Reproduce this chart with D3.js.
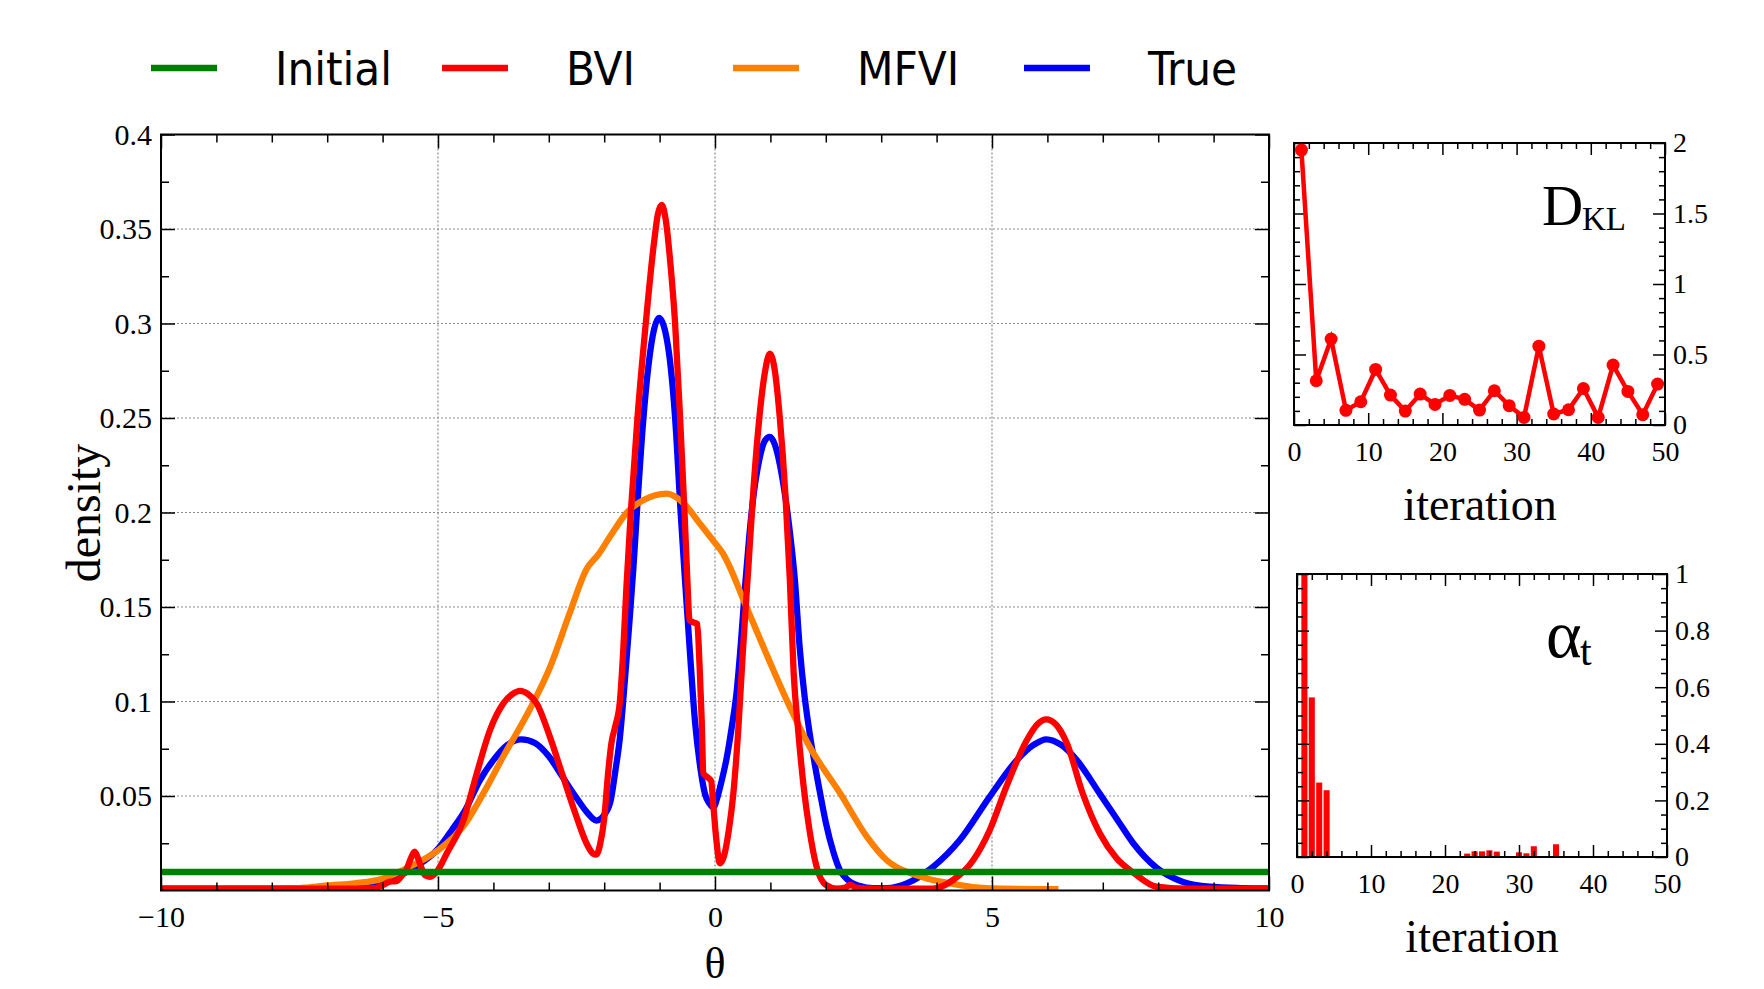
<!DOCTYPE html>
<html>
<head>
<meta charset="utf-8">
<script src="https://cdn.jsdelivr.net/npm/d3@7"></script>
<style>
  body { margin: 0; background: #fff; }
  svg { display: block; }
</style>
</head>
<body>
<svg></svg>
<script>
// ---- data ----
const legendLabels = ['Initial', 'BVI', 'MFVI', 'True'];
const legendColors = ['#008000', '#ff0000', '#ff8000', '#0000ff'];

const thetaInitial = [-10, 10];
const densityInitial = [0.0098, 0.0098];

const thetaTrue = [-10, -8, -7, -6.5, -6, -5.5, -5, -4.75, -4.5, -4.25, -4, -3.75, -3.5, -3.25, -3, -2.75, -2.5, -2.3, -2.14, -2.0, -1.88, -1.8, -1.72, -1.63, -1.55, -1.47, -1.41, -1.3, -1.2, -1.1, -1.01, -0.9, -0.8, -0.72, -0.62, -0.55, -0.45, -0.36, -0.27, -0.18, -0.1, -0.03, 0.05, 0.12, 0.21, 0.3, 0.39, 0.47, 0.54, 0.62, 0.7, 0.8, 0.9, 0.99, 1.08, 1.18, 1.28, 1.37, 1.44, 1.53, 1.62, 1.71, 1.8, 1.9, 2.0, 2.14, 2.25, 2.38, 2.6, 2.86, 3.1, 3.46, 3.94, 4.42, 4.96, 5.45, 5.75, 5.98, 6.25, 6.53, 6.95, 7.25, 7.55, 7.97, 8.45, 8.93, 9.5, 10];
const densityTrue = [0.001, 0.001, 0.0012, 0.002, 0.004, 0.011, 0.022, 0.032, 0.043, 0.058, 0.069, 0.077, 0.080, 0.078, 0.071, 0.060, 0.049, 0.041, 0.037, 0.040, 0.048, 0.063, 0.080, 0.110, 0.140, 0.172, 0.200, 0.247, 0.278, 0.297, 0.303, 0.296, 0.277, 0.250, 0.200, 0.168, 0.125, 0.089, 0.066, 0.051, 0.046, 0.044, 0.050, 0.058, 0.070, 0.086, 0.105, 0.132, 0.160, 0.188, 0.210, 0.228, 0.238, 0.240, 0.236, 0.224, 0.206, 0.185, 0.165, 0.128, 0.102, 0.083, 0.067, 0.051, 0.036, 0.020, 0.011, 0.006, 0.0025, 0.0012, 0.0013, 0.0038, 0.0126, 0.0267, 0.0497, 0.069, 0.077, 0.080, 0.077, 0.069, 0.051, 0.038, 0.025, 0.012, 0.0045, 0.002, 0.0013, 0.0011];

const thetaBVI = [-10, -8, -6.5, -6.14, -5.99, -5.87, -5.75, -5.65, -5.57, -5.49, -5.42, -5.36, -5.3, -5.23, -5.14, -5.02, -4.84, -4.54, -4.3, -4.06, -3.82, -3.65, -3.52, -3.38, -3.22, -2.98, -2.74, -2.5, -2.32, -2.2, -2.14, -2.07, -2.0, -1.93, -1.87, -1.8, -1.72, -1.66, -1.6, -1.52, -1.4, -1.25, -1.1, -1.03, -0.96, -0.89, -0.8, -0.72, -0.63, -0.55, -0.5, -0.46, -0.4, -0.32, -0.28, -0.24, -0.21, -0.14, -0.07, -0.03, 0.02, 0.09, 0.16, 0.25, 0.33, 0.42, 0.5, 0.6, 0.7, 0.8, 0.9, 0.99, 1.08, 1.17, 1.27, 1.35, 1.42, 1.5, 1.6, 1.7, 1.83, 2.0, 2.2, 2.35, 2.44, 2.55, 2.8, 3.94, 4.3, 4.66, 4.96, 5.26, 5.63, 5.82, 5.98, 6.15, 6.35, 6.63, 6.95, 7.25, 7.55, 7.97, 8.5, 10];
const densityBVI = [0.001, 0.001, 0.001, 0.0012, 0.003, 0.0047, 0.005, 0.008, 0.011, 0.017, 0.0205, 0.017, 0.012, 0.008, 0.0072, 0.010, 0.0197, 0.0373, 0.062, 0.085, 0.099, 0.104, 0.1056, 0.104, 0.099, 0.0813, 0.060, 0.039, 0.025, 0.0195, 0.019, 0.025, 0.038, 0.062, 0.078, 0.087, 0.099, 0.125, 0.160, 0.200, 0.250, 0.300, 0.343, 0.358, 0.3627, 0.355, 0.330, 0.300, 0.250, 0.200, 0.165, 0.143, 0.142, 0.141, 0.120, 0.090, 0.062, 0.060, 0.058, 0.045, 0.028, 0.0144, 0.018, 0.032, 0.051, 0.085, 0.125, 0.170, 0.215, 0.250, 0.274, 0.284, 0.275, 0.250, 0.210, 0.165, 0.115, 0.085, 0.055, 0.033, 0.013, 0.003, 0.001, 0.0015, 0.003, 0.0015, 0.001, 0.001, 0.0056, 0.016, 0.032, 0.055, 0.0796, 0.088, 0.0905, 0.088, 0.078, 0.052, 0.030, 0.017, 0.0095, 0.002, 0.001, 0.001];

const thetaMFVI = [-7.75, -7.4, -7.0, -6.5, -6.0, -5.57, -5.0, -4.54, -4.18, -3.82, -3.34, -2.98, -2.62, -2.32, -2.1, -1.9, -1.59, -1.29, -0.87, -0.57, -0.27, -0.03, 0.15, 0.27, 0.51, 0.93, 1.29, 1.71, 2.26, 2.74, 3.1, 3.64, 4.24, 4.96, 6.2];
const densityMFVI = [0.0007, 0.0015, 0.0027, 0.0038, 0.0062, 0.0117, 0.0213, 0.034, 0.0515, 0.071, 0.096, 0.118, 0.147, 0.170, 0.178, 0.187, 0.200, 0.2066, 0.210, 0.205, 0.194, 0.185, 0.178, 0.171, 0.154, 0.125, 0.101, 0.076, 0.0514, 0.0285, 0.016, 0.008, 0.0038, 0.0011, 0.0007];

const klIteration = [1, 3, 5, 7, 9, 11, 13, 15, 17, 19, 21, 23, 25, 27, 29, 31, 33, 35, 37, 39, 41, 43, 45, 47, 49];
const klValue = [1.95, 0.314, 0.61, 0.104, 0.165, 0.394, 0.212, 0.099, 0.219, 0.146, 0.21, 0.182, 0.106, 0.243, 0.137, 0.054, 0.559, 0.078, 0.108, 0.259, 0.054, 0.425, 0.238, 0.073, 0.29];

const alphaIteration = [1, 2, 3, 4, 21, 22, 23, 24, 25, 26, 27, 29, 30, 31, 32, 35];
const alphaValue = [1.0, 0.564, 0.263, 0.236, 0.001, 0.001, 0.012, 0.02, 0.02, 0.0235, 0.019, 0.0035, 0.0165, 0.013, 0.038, 0.045];

const thetaLabels = ['\u221210', '\u22125', '0', '5', '10'];
const thetaMajor = [-10, -5, 0, 5, 10];
const thetaGrid = [-5, 0, 5];
const densityMajor = [0.05, 0.1, 0.15, 0.2, 0.25, 0.3, 0.35, 0.4];
const densityLabels = ['0.05', '0.1', '0.15', '0.2', '0.25', '0.3', '0.35', '0.4'];
const densityGrid = [0.05, 0.1, 0.15, 0.2, 0.25, 0.3, 0.35];
const iterMajor = [0, 10, 20, 30, 40, 50];
const iterLabels = ['0', '10', '20', '30', '40', '50'];
const klMajor = [0, 0.5, 1, 1.5, 2];
const klLabels = ['0', '0.5', '1', '1.5', '2'];
const alphaMajor = [0, 0.2, 0.4, 0.6, 0.8, 1];
const alphaLabels = ['0', '0.2', '0.4', '0.6', '0.8', '1'];

// ---- layout ----
const width = 1764;
const height = 989;
const serif = '"Liberation Serif", "Times New Roman", serif';
const legendFont = '"Liberation Sans Narrow", "DejaVu Sans Condensed", "Liberation Sans", sans-serif';

const svg = d3.select('svg')
  .attr('width', width)
  .attr('height', height)
  .style('background', '#fff');

// framed panel, inward ticks on all four sides
const drawFrame = (g, x, y, opt) => {
  const [x0, x1] = x.range();
  const [y0, y1] = y.range();

  const styleAxis = sel => {
    sel.select('.domain').remove();
    sel.selectAll('line').attr('stroke', '#000').attr('stroke-width', 1.5);
    sel.selectAll('text')
      .attr('font-family', serif)
      .attr('font-size', opt.fontSize)
      .attr('fill', '#000');
  };

  const sides = [
    { make: () => d3.axisBottom(x), at: `translate(0,${y0})`, major: opt.xMajor, minor: opt.xMinor, labels: opt.xLabels, pad: opt.xPad },
    { make: () => d3.axisTop(x), at: `translate(0,${y1})`, major: opt.xMajor, minor: opt.xMinor, labels: null, pad: 0 },
    { make: () => d3.axisLeft(y), at: `translate(${x0},0)`, major: opt.yMajor, minor: opt.yMinor, labels: opt.yLeftLabels, pad: opt.yPad },
    { make: () => d3.axisRight(y), at: `translate(${x1},0)`, major: opt.yMajor, minor: opt.yMinor, labels: opt.yRightLabels, pad: opt.yPad }
  ];

  sides.forEach(s => {
    g.append('g')
      .attr('transform', s.at)
      .call(s.make().tickValues(s.minor).tickSize(-opt.minorLen).tickFormat(''))
      .call(styleAxis);

    g.append('g')
      .attr('transform', s.at)
      .call(s.make()
        .tickValues(s.major)
        .tickSize(-opt.majorLen)
        .tickPadding(s.pad)
        .tickFormat((d, i) => (s.labels ? s.labels[i] : '')))
      .call(styleAxis);
  });

  g.append('rect')
    .attr('x', x0)
    .attr('y', y1)
    .attr('width', x1 - x0)
    .attr('height', y0 - y1)
    .attr('fill', 'none')
    .attr('stroke', '#000')
    .attr('stroke-width', 2);
};

// ---- main density panel ----
const x = d3.scaleLinear().domain([-10, 10]).range([161, 1269]);
const y = d3.scaleLinear().domain([0, 0.4]).range([890.5, 134.5]);

const mainG = svg.append('g');

mainG.append('g')
  .selectAll('line')
  .data(densityGrid)
  .join('line')
  .attr('x1', x(-10))
  .attr('x2', x(10))
  .attr('y1', d => y(d))
  .attr('y2', d => y(d))
  .attr('stroke', '#8c8c8c')
  .attr('stroke-width', 1.2)
  .attr('stroke-dasharray', '2,2');

mainG.append('g')
  .selectAll('line')
  .data(thetaGrid)
  .join('line')
  .attr('x1', d => x(d))
  .attr('x2', d => x(d))
  .attr('y1', y(0))
  .attr('y2', y(0.4))
  .attr('stroke', '#8c8c8c')
  .attr('stroke-width', 1.2)
  .attr('stroke-dasharray', '2,2');

svg.append('clipPath')
  .attr('id', 'mainClip')
  .append('rect')
  .attr('x', x(-10))
  .attr('y', y(0.4))
  .attr('width', x(10) - x(-10))
  .attr('height', y(0) - y(0.4));

const line = d3.line()
  .x(d => x(d[0]))
  .y(d => y(d[1]))
  .curve(d3.curveMonotoneX);

const series = [
  { th: thetaTrue, v: densityTrue, color: legendColors[3] },
  { th: thetaMFVI, v: densityMFVI, color: legendColors[2] },
  { th: thetaBVI, v: densityBVI, color: legendColors[1] },
  { th: thetaInitial, v: densityInitial, color: legendColors[0] }
];

const curves = mainG.append('g').attr('clip-path', 'url(#mainClip)');
series.forEach(s => {
  curves.append('path')
    .datum(s.th.map((t, i) => [t, s.v[i]]))
    .attr('d', line)
    .attr('fill', 'none')
    .attr('stroke', s.color)
    .attr('stroke-width', 6.3)
    .attr('stroke-linejoin', 'round');
});

drawFrame(mainG, x, y, {
  xMajor: thetaMajor,
  xMinor: d3.range(-9, 10).filter(d => d % 5 !== 0),
  xLabels: thetaLabels,
  xPad: 15,
  yMajor: densityMajor,
  yMinor: d3.range(1, 16, 2).map(d => d * 0.025),
  yLeftLabels: densityLabels,
  yRightLabels: null,
  yPad: 9,
  majorLen: 14,
  minorLen: 8,
  fontSize: 30
});

mainG.append('text')
  .attr('x', x(0))
  .attr('y', 978)
  .attr('text-anchor', 'middle')
  .attr('font-family', serif)
  .attr('font-size', 44)
  .text('\u03b8');

mainG.append('text')
  .attr('transform', 'translate(100,513) rotate(-90)')
  .attr('text-anchor', 'middle')
  .attr('font-family', serif)
  .attr('font-size', 48)
  .text('density');

// ---- legend ----
const legend = svg.append('g');
legendLabels.forEach((name, i) => {
  const x0 = 151 + 291 * i;
  legend.append('line')
    .attr('x1', x0)
    .attr('x2', x0 + 66)
    .attr('y1', 68)
    .attr('y2', 68)
    .attr('stroke', legendColors[i])
    .attr('stroke-width', 6.5);
  legend.append('text')
    .attr('x', x0 + 124)
    .attr('y', 85)
    .attr('font-family', legendFont)
    .attr('font-size', 47)
    .text(name);
});

// ---- KL divergence panel ----
const xk = d3.scaleLinear().domain([0, 50]).range([1294, 1665]);
const yk = d3.scaleLinear().domain([0, 2]).range([425, 143]);
const klG = svg.append('g');

drawFrame(klG, xk, yk, {
  xMajor: iterMajor,
  xMinor: d3.range(2, 50, 2).filter(d => d % 10 !== 0),
  xLabels: iterLabels,
  xPad: 16,
  yMajor: klMajor,
  yMinor: d3.range(1, 20).filter(d => d % 5 !== 0).map(d => d / 10),
  yLeftLabels: null,
  yRightLabels: klLabels,
  yPad: 8,
  majorLen: 12,
  minorLen: 6,
  fontSize: 28
});

const klPts = klIteration.map((it, i) => [it, klValue[i]]);
klG.append('path')
  .datum(klPts)
  .attr('d', d3.line().x(d => xk(d[0])).y(d => yk(d[1])))
  .attr('fill', 'none')
  .attr('stroke', '#ff0000')
  .attr('stroke-width', 4.5);

klG.append('g')
  .selectAll('circle')
  .data(klPts)
  .join('circle')
  .attr('cx', d => xk(d[0]))
  .attr('cy', d => yk(d[1]))
  .attr('r', 6.5)
  .attr('fill', '#ff0000');

klG.append('text')
  .attr('x', 1542)
  .attr('y', 225)
  .attr('font-family', serif)
  .attr('font-size', 57)
  .text('D');
klG.append('text')
  .attr('x', 1582)
  .attr('y', 230)
  .attr('font-family', serif)
  .attr('font-size', 33)
  .text('KL');

klG.append('text')
  .attr('x', 1480)
  .attr('y', 520)
  .attr('text-anchor', 'middle')
  .attr('font-family', serif)
  .attr('font-size', 46)
  .text('iteration');

// ---- step size panel ----
const xa = d3.scaleLinear().domain([0, 50]).range([1297, 1667]);
const ya = d3.scaleLinear().domain([0, 1]).range([857, 574]);
const alphaG = svg.append('g');
const barW = (xa(1) - xa(0)) * 0.82;

alphaG.append('g')
  .selectAll('rect')
  .data(alphaIteration.map((it, i) => [it, alphaValue[i]]))
  .join('rect')
  .attr('x', d => xa(d[0]) - barW / 2)
  .attr('y', d => ya(d[1]))
  .attr('width', barW)
  .attr('height', d => ya(0) - ya(d[1]))
  .attr('fill', '#ff0000');

drawFrame(alphaG, xa, ya, {
  xMajor: iterMajor,
  xMinor: d3.range(2, 50, 2).filter(d => d % 10 !== 0),
  xLabels: iterLabels,
  xPad: 16,
  yMajor: alphaMajor,
  yMinor: d3.range(1, 20).filter(d => d % 4 !== 0).map(d => d * 0.05),
  yLeftLabels: null,
  yRightLabels: alphaLabels,
  yPad: 8,
  majorLen: 12,
  minorLen: 6,
  fontSize: 28
});

alphaG.append('text')
  .attr('x', 1546)
  .attr('y', 657)
  .attr('font-family', serif)
  .attr('font-size', 68)
  .text('\u03b1');
alphaG.append('text')
  .attr('x', 1580)
  .attr('y', 665)
  .attr('font-family', serif)
  .attr('font-size', 42)
  .text('t');

alphaG.append('text')
  .attr('x', 1482)
  .attr('y', 952)
  .attr('text-anchor', 'middle')
  .attr('font-family', serif)
  .attr('font-size', 46)
  .text('iteration');
</script>
</body>
</html>
